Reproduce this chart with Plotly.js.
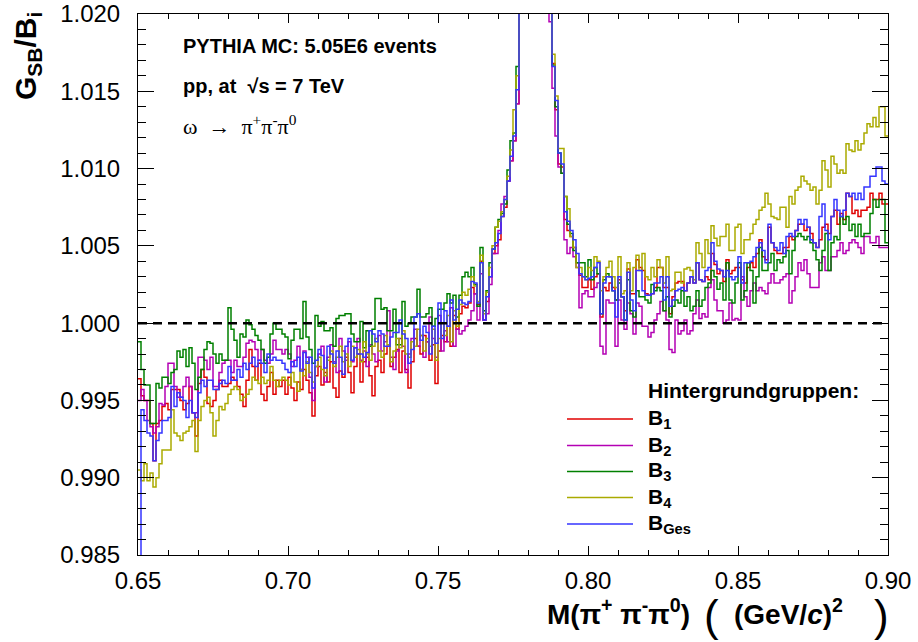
<!DOCTYPE html>
<html><head><meta charset="utf-8">
<script src="https://cdn.plot.ly/plotly-3.0.1.min.js"></script>
<style>html,body{margin:0;padding:0;background:#fff}#chart{width:918px;height:642px}</style>
</head><body><div id="chart"></div>
<script>
// Histogram binning (M in GeV/c^2)
const binLow = 0.65, binWidth = 0.001, nBins = 250;

const seriesLabels = ['B<sub>1</sub>', 'B<sub>2</sub>', 'B<sub>3</sub>', 'B<sub>4</sub>', 'B<sub>Ges</sub>'];
const seriesColors = ['#e00000', '#b400b4', '#008000', '#aaaa00', '#3535ff'];

// G_SB / B_i per bin (peak bins are off-scale estimates)
const B1 = [
0.9964,0.9953,0.9950,0.9950,0.9935,0.9911,0.9935,0.9937,0.9946,0.9948,
0.9944,0.9957,0.9957,0.9957,0.9950,0.9944,0.9948,0.9959,0.9942,0.9927,
0.9961,0.9970,0.9965,0.9948,0.9946,0.9950,0.9957,0.9963,0.9959,0.9959,
0.9961,0.9965,0.9963,0.9959,0.9954,0.9946,0.9963,0.9983,0.9972,0.9963,
0.9974,0.9954,0.9950,0.9959,0.9968,0.9954,0.9963,0.9959,0.9963,0.9954,
0.9965,0.9958,0.9950,0.9962,0.9957,0.9970,0.9963,0.9955,0.9940,0.9966,
0.9972,0.9960,0.9968,0.9962,0.9975,0.9958,0.9952,0.9969,0.9965,0.9978,
0.9968,0.9955,0.9972,0.9980,0.9962,0.9975,0.9978,0.9966,0.9953,0.9972,
0.9976,0.9968,0.9980,0.9985,0.9972,0.9978,0.9983,0.9968,0.9982,0.9970,
0.9958,0.9975,0.9990,0.9985,0.9980,0.9992,0.9988,0.9976,0.9986,0.9961,
0.9982,0.9992,0.9988,0.9998,0.9985,1.0005,0.9996,1.0006,1.0011,1.0010,
1.0013,1.0023,1.0019,1.0012,1.0040,1.0002,1.0014,1.0030,1.0045,1.0050,
1.0054,1.0069,1.0075,1.0092,1.0105,1.0118,1.0142,
1.0260,1.0350,1.0450,1.0520,1.0560,1.0560,1.0520,1.0450,1.0360,1.0280,1.0220,
1.0168,1.0138,1.0103,1.0101,1.0067,1.0060,1.0056,1.0049,1.0039,1.0031,1.0023,1.0023,
1.0028,1.0022,1.0030,1.0032,1.0004,1.0023,1.0021,1.0026,1.0023,1.0015,
1.0028,1.0017,1.0008,1.0035,1.0019,1.0019,1.0041,1.0036,1.0034,1.0019,
1.0018,1.0019,1.0023,1.0036,1.0036,1.0023,1.0023,1.0006,1.0017,1.0026,
1.0027,1.0027,1.0021,1.0026,1.0030,1.0026,1.0039,1.0028,1.0027,1.0030,
1.0028,1.0045,1.0038,1.0032,1.0034,1.0027,1.0041,1.0032,1.0034,1.0036,
1.0036,1.0028,1.0026,1.0036,1.0039,1.0036,1.0045,1.0054,1.0043,1.0041,
1.0062,1.0052,1.0047,1.0045,1.0045,1.0049,1.0049,1.0056,1.0054,1.0060,
1.0064,1.0064,1.0060,1.0062,1.0058,1.0052,1.0049,1.0054,1.0062,1.0064,
1.0058,1.0069,1.0073,1.0064,1.0071,1.0067,1.0084,1.0082,1.0071,1.0073,
1.0069,1.0073,1.0073,1.0075,1.0084,1.0080,1.0080,1.0084,1.0077,1.0077];

const B2 = [
0.9950,0.9957,0.9950,0.9937,0.9933,0.9929,0.9933,0.9948,0.9947,0.9959,
0.9974,0.9974,0.9959,0.9952,0.9952,0.9959,0.9965,0.9959,0.9942,0.9942,
0.9978,0.9978,0.9976,0.9970,0.9978,0.9959,0.9959,0.9968,0.9974,0.9976,
0.9976,0.9968,0.9976,0.9972,0.9972,0.9978,0.9987,0.9989,0.9988,0.9983,
0.9976,0.9983,0.9976,0.9974,0.9980,0.9989,0.9983,0.9983,0.9980,0.9983,
0.9980,0.9972,0.9976,0.9985,0.9970,0.9982,0.9978,0.9965,0.9950,0.9972,
0.9980,0.9985,0.9962,0.9978,0.9986,0.9975,0.9968,0.9990,0.9982,0.9976,
0.9988,0.9975,0.9984,0.9990,0.9976,0.9982,0.9972,0.9986,0.9980,0.9975,
0.9992,0.9982,0.9988,1.0008,0.9978,0.9970,0.9982,0.9990,0.9985,0.9968,
0.9980,0.9990,0.9996,0.9985,0.9992,0.9978,0.9988,1.0004,0.9990,0.9978,
1.0005,0.9982,0.9995,0.9988,1.0010,0.9985,0.9996,0.9993,0.9995,0.9998,
1.0002,1.0008,1.0019,1.0002,1.0032,1.0002,1.0006,1.0025,1.0045,1.0045,
1.0060,1.0077,1.0082,1.0092,1.0105,1.0118,1.0142,
1.0250,1.0340,1.0430,1.0500,1.0540,1.0540,1.0500,1.0420,1.0330,1.0250,1.0195,
1.0152,1.0121,1.0101,1.0097,1.0054,1.0045,1.0049,1.0043,1.0036,1.0010,1.0019,1.0021,
1.0017,1.0017,1.0023,1.0026,0.9985,0.9980,1.0015,1.0013,1.0013,0.9985,
1.0015,1.0002,0.9996,1.0013,1.0006,0.9993,1.0013,1.0011,0.9998,0.9998,
0.9991,0.9994,1.0002,1.0006,1.0014,1.0008,1.0002,0.9983,0.9981,1.0002,
0.9993,0.9995,1.0002,0.9993,0.9995,1.0006,1.0015,1.0003,1.0006,1.0004,
1.0023,1.0028,1.0015,1.0008,1.0008,1.0000,1.0002,1.0013,1.0002,1.0003,
1.0002,1.0030,1.0017,1.0011,1.0021,1.0026,1.0021,1.0023,1.0021,1.0019,
1.0026,1.0032,1.0026,1.0026,1.0028,1.0030,1.0032,1.0013,1.0021,1.0030,
1.0039,1.0034,1.0041,1.0032,1.0023,1.0023,1.0023,1.0039,1.0043,1.0034,
1.0034,1.0043,1.0043,1.0047,1.0052,1.0045,1.0047,1.0052,1.0054,1.0052,
1.0049,1.0045,1.0056,1.0056,1.0052,1.0052,1.0056,1.0049,1.0049,1.0049];

const B3 = [
0.9988,0.9970,0.9960,0.9960,0.9935,0.9935,0.9961,0.9958,0.9965,0.9965,
0.9961,0.9968,0.9970,0.9982,0.9978,0.9983,0.9972,0.9984,0.9974,0.9957,
0.9965,0.9970,0.9983,0.9988,0.9987,0.9980,0.9974,0.9980,0.9976,0.9976,
1.0010,0.9996,0.9989,0.9978,0.9993,0.9991,1.0002,0.9999,0.9996,0.9992,
0.9989,0.9983,0.9974,0.9978,0.9993,1.0000,0.9996,0.9996,0.9993,0.9991,
0.9977,0.9989,0.9996,0.9996,0.9990,1.0014,0.9991,0.9983,0.9974,1.0005,
0.9998,1.0001,0.9995,0.9995,0.9997,0.9985,1.0003,1.0005,1.0005,1.0006,
1.0006,0.9993,0.9988,0.9988,1.0001,0.9984,0.9995,0.9985,0.9996,1.0016,
1.0016,1.0009,1.0010,0.9995,0.9995,1.0009,0.9986,0.9986,1.0014,0.9998,
1.0000,1.0004,1.0004,1.0022,1.0004,1.0004,1.0006,1.0010,0.9998,1.0003,
1.0009,1.0009,1.0013,1.0019,1.0013,1.0018,1.0004,1.0018,1.0030,1.0033,
1.0030,1.0036,1.0025,1.0011,1.0049,1.0008,1.0021,1.0039,1.0048,1.0062,
1.0067,1.0071,1.0077,1.0099,1.0118,1.0123,1.0166,
1.0270,1.0360,1.0460,1.0530,1.0570,1.0570,1.0530,1.0460,1.0370,1.0290,1.0225,
1.0167,1.0140,1.0110,1.0097,1.0082,1.0064,1.0058,1.0047,1.0039,1.0039,1.0039,1.0030,
1.0041,1.0028,1.0036,1.0032,1.0006,1.0028,1.0032,1.0030,1.0021,1.0015,
1.0026,1.0017,1.0002,1.0028,1.0008,1.0004,1.0021,1.0017,1.0017,1.0015,
1.0013,1.0025,1.0021,1.0023,1.0021,1.0008,1.0017,1.0004,1.0011,1.0015,
1.0013,1.0021,1.0011,1.0017,1.0008,1.0011,1.0021,1.0011,1.0015,1.0023,
1.0026,1.0034,1.0030,1.0022,1.0026,1.0015,1.0039,1.0015,1.0013,1.0026,
1.0039,1.0015,1.0021,1.0039,1.0034,1.0013,1.0030,1.0049,1.0034,1.0034,
1.0039,1.0045,1.0034,1.0041,1.0039,1.0043,1.0047,1.0032,1.0047,1.0056,
1.0058,1.0056,1.0054,1.0056,1.0052,1.0047,1.0041,1.0034,1.0047,1.0058,
1.0034,1.0052,1.0056,1.0054,1.0069,1.0064,1.0069,1.0060,1.0064,1.0056,
1.0064,1.0056,1.0058,1.0058,1.0071,1.0080,1.0075,1.0080,1.0080,1.0052];

const B4 = [
0.9905,0.9898,0.9909,0.9898,0.9903,0.9894,0.9900,0.9909,0.9918,0.9918,
0.9918,0.9944,0.9929,0.9927,0.9924,0.9929,0.9930,0.9933,0.9937,0.9917,
0.9937,0.9946,0.9950,0.9952,0.9942,0.9927,0.9937,0.9946,0.9944,0.9948,
0.9954,0.9957,0.9959,0.9957,0.9950,0.9952,0.9954,0.9957,0.9965,0.9963,
0.9961,0.9965,0.9961,0.9963,0.9972,0.9963,0.9959,0.9963,0.9965,0.9963,
0.9960,0.9968,0.9962,0.9956,0.9970,0.9966,0.9975,0.9968,0.9962,0.9972,
0.9978,0.9970,0.9966,0.9976,0.9982,0.9972,0.9978,0.9985,0.9975,0.9980,
0.9972,0.9985,0.9978,0.9983,0.9975,0.9988,0.9980,0.9976,0.9985,0.9990,
0.9982,0.9978,0.9992,0.9986,0.9975,0.9982,0.9990,0.9984,0.9995,0.9980,
0.9978,0.9988,0.9985,0.9996,0.9992,0.9982,0.9990,0.9985,0.9996,0.9976,
0.9990,1.0000,0.9992,1.0005,0.9988,1.0008,0.9998,1.0012,1.0020,1.0018,
1.0022,1.0030,1.0024,1.0014,1.0044,1.0006,1.0020,1.0036,1.0050,1.0062,
1.0066,1.0072,1.0080,1.0095,1.0112,1.0138,1.0160,
1.0280,1.0370,1.0470,1.0540,1.0580,1.0580,1.0540,1.0470,1.0380,1.0300,1.0235,
1.0174,1.0147,1.0113,1.0113,1.0082,1.0074,1.0056,1.0049,1.0036,1.0036,1.0030,1.0028,
1.0036,1.0034,1.0043,1.0040,1.0021,1.0030,1.0036,1.0040,1.0030,1.0023,
1.0043,1.0019,1.0021,1.0039,1.0021,1.0036,1.0044,1.0034,1.0045,1.0030,
1.0028,1.0036,1.0030,1.0041,1.0036,1.0026,1.0043,1.0021,1.0022,1.0033,
1.0033,1.0026,1.0035,1.0036,1.0034,1.0028,1.0052,1.0045,1.0036,1.0054,
1.0045,1.0063,1.0055,1.0050,1.0056,1.0056,1.0064,1.0047,1.0047,1.0062,
1.0064,1.0045,1.0054,1.0054,1.0058,1.0064,1.0067,1.0073,1.0075,1.0084,
1.0077,1.0069,1.0068,1.0067,1.0075,1.0075,1.0062,1.0082,1.0077,1.0086,
1.0088,1.0095,1.0092,1.0090,1.0086,1.0088,1.0077,1.0086,1.0105,1.0099,
1.0088,1.0108,1.0103,1.0097,1.0099,1.0097,1.0116,1.0112,1.0111,1.0118,
1.0112,1.0116,1.0123,1.0129,1.0127,1.0133,1.0127,1.0140,1.0140,1.0121];

const BGes = [
0.9820,0.9944,0.9937,0.9929,0.9927,0.9911,0.9924,0.9929,0.9937,0.9937,
0.9939,0.9959,0.9946,0.9955,0.9952,0.9950,0.9939,0.9950,0.9942,0.9939,
0.9955,0.9963,0.9959,0.9963,0.9963,0.9957,0.9957,0.9961,0.9963,0.9961,
0.9972,0.9963,0.9963,0.9970,0.9965,0.9974,0.9970,0.9974,0.9978,0.9972,
0.9976,0.9974,0.9968,0.9980,0.9976,0.9978,0.9976,0.9976,0.9974,0.9970,
0.9968,0.9975,0.9972,0.9978,0.9969,0.9981,0.9974,0.9978,0.9958,0.9976,
0.9983,0.9979,0.9971,0.9985,0.9980,0.9974,0.9982,0.9978,0.9967,0.9985,
0.9990,0.9976,0.9984,0.9980,0.9980,0.9978,0.9981,0.9995,0.9993,0.9988,
0.9995,0.9993,0.9985,0.9985,0.9991,0.9994,0.9994,1.0002,0.9993,0.9990,
0.9974,0.9983,1.0004,1.0006,0.9989,0.9998,0.9994,0.9980,0.9998,0.9987,
1.0013,0.9990,1.0008,0.9998,1.0015,1.0002,1.0009,1.0015,1.0013,1.0012,
1.0014,1.0027,1.0026,1.0013,1.0039,1.0002,1.0017,1.0030,1.0048,1.0052,
1.0058,1.0069,1.0080,1.0092,1.0108,1.0121,1.0151,
1.0260,1.0350,1.0450,1.0520,1.0560,1.0560,1.0520,1.0450,1.0360,1.0280,1.0220,
1.0166,1.0144,1.0110,1.0103,1.0072,1.0066,1.0060,1.0054,1.0045,1.0032,1.0030,1.0028,
1.0029,1.0030,1.0036,1.0039,1.0006,1.0026,1.0030,1.0030,1.0021,1.0004,
1.0030,1.0017,1.0002,1.0033,1.0015,1.0008,1.0034,1.0034,1.0021,1.0018,
1.0018,1.0019,1.0026,1.0026,1.0030,1.0015,1.0030,1.0011,1.0015,1.0021,
1.0022,1.0023,1.0021,1.0026,1.0030,1.0026,1.0039,1.0028,1.0027,1.0034,
1.0036,1.0052,1.0040,1.0035,1.0034,1.0030,1.0034,1.0030,1.0028,1.0030,
1.0043,1.0026,1.0039,1.0039,1.0040,1.0043,1.0049,1.0052,1.0047,1.0039,
1.0064,1.0052,1.0049,1.0047,1.0052,1.0045,1.0056,1.0058,1.0056,1.0060,
1.0067,1.0064,1.0067,1.0062,1.0054,1.0052,1.0049,1.0069,1.0077,1.0060,
1.0054,1.0069,1.0080,1.0073,1.0069,1.0073,1.0084,1.0082,1.0084,1.0080,
1.0084,1.0080,1.0088,1.0088,1.0095,1.0095,1.0101,1.0101,1.0092,1.0090];

const allSeries = [B1, B2, B3, B4, BGes];
const edges = Array.from({length: nBins + 1}, (_, i) => +(binLow + i * binWidth).toFixed(3));

const traces = allSeries.map((vals, k) => ({
  x: edges,
  y: vals.concat([vals[vals.length - 1]]),
  type: 'scatter', mode: 'lines',
  line: {shape: 'hv', color: seriesColors[k], width: 1.5},
  name: seriesLabels[k], showlegend: false, hoverinfo: 'skip'
}));

// plot-area pixel helpers for paper placement
const L = 138, T = 14, W = 750, H = 541;
const px = v => (v - L) / W;
const py = v => (T + H - v) / H;

const FONT = 'Liberation Sans, Arial, sans-serif';
const shapes = [{type: 'line', xref: 'paper', yref: 'y', x0: 0, x1: 1, y0: 1.0, y1: 1.0,
  line: {color: 'black', width: 2.5, dash: '9px,6px'}}];
const annotations = [];
const legendY = [419, 445.5, 471.5, 497.5, 524];
seriesLabels.forEach((lab, k) => {
  shapes.push({type: 'line', xref: 'paper', yref: 'paper', x0: px(567), x1: px(633),
    y0: py(legendY[k]), y1: py(legendY[k]), line: {color: seriesColors[k], width: 1.5}});
  annotations.push({xref: 'paper', yref: 'paper', x: px(646), y: py(legendY[k]), xanchor: 'left', yanchor: 'middle',
    text: '<b>' + lab + '</b>', showarrow: false, font: {family: FONT, size: 21, color: 'black'}});
});
annotations.push(
  {xref: 'paper', yref: 'paper', x: px(646), y: py(390), xanchor: 'left', yanchor: 'middle', showarrow: false,
   text: '<b>Hintergrundgruppen:</b>', font: {family: FONT, size: 21, color: 'black'}},
  {xref: 'paper', yref: 'paper', x: px(181), y: py(46), xanchor: 'left', yanchor: 'middle', showarrow: false,
   text: '<b>PYTHIA MC: 5.05E6 events</b>', font: {family: FONT, size: 20, color: 'black'}},
  {xref: 'paper', yref: 'paper', x: px(181), y: py(86), xanchor: 'left', yanchor: 'middle', showarrow: false,
   text: '<b>pp, at  √s = 7 TeV</b>', font: {family: FONT, size: 20, color: 'black'}},
  {xref: 'paper', yref: 'paper', x: px(181), y: py(125), xanchor: 'left', yanchor: 'middle', showarrow: false,
   text: 'ω  →  π<sup>+</sup>π<sup>-</sup>π<sup>0</sup>', font: {family: 'Liberation Serif, Times New Roman, serif', size: 22, color: 'black'}},
  {xref: 'paper', yref: 'paper', x: px(28), y: py(56), xanchor: 'center', yanchor: 'middle', showarrow: false, textangle: -90,
   text: '<b>G<sub>SB</sub>/B<sub>i</sub></b>', font: {family: FONT, size: 30, color: 'black'}},
  // x-axis title pieces
  {xref: 'paper', yref: 'paper', x: px(692), y: py(612), xanchor: 'right', yanchor: 'middle', showarrow: false,
   text: '<b>M(π<sup>+</sup> π<sup>-</sup>π<sup>0</sup>)</b>', font: {family: FONT, size: 28, color: 'black'}},
  {xref: 'paper', yref: 'paper', x: px(711), y: py(615), xanchor: 'center', yanchor: 'middle', showarrow: false,
   text: '(', font: {family: FONT, size: 44, color: 'black'}},
  {xref: 'paper', yref: 'paper', x: px(732), y: py(612), xanchor: 'left', yanchor: 'middle', showarrow: false,
   text: '<b>(GeV/<i>c</i>)<sup>2</sup></b>', font: {family: FONT, size: 28, color: 'black'}},
  {xref: 'paper', yref: 'paper', x: px(881), y: py(615), xanchor: 'center', yanchor: 'middle', showarrow: false,
   text: ')', font: {family: FONT, size: 44, color: 'black'}}
);

const axisCommon = {
  showline: true, linecolor: 'black', linewidth: 1, mirror: 'allticks',
  ticks: 'inside', tickcolor: 'black', tickwidth: 1,
  showgrid: false, zeroline: false,
  tickfont: {family: FONT, size: 24, color: 'black'}
};

const layout = {
  width: 918, height: 642,
  margin: {l: L, r: 918 - L - W, t: T, b: 642 - T - H, pad: 0},
  paper_bgcolor: 'white', plot_bgcolor: 'white',
  showlegend: false,
  xaxis: Object.assign({}, axisCommon, {
    range: [0.65, 0.90], tick0: 0.65, dtick: 0.05, tickformat: '.2f', ticklen: 9,
    ticklabelstandoff: 4,
    minor: {dtick: 0.01, ticks: 'inside', ticklen: 5, tickcolor: 'black', showgrid: false}
  }),
  yaxis: Object.assign({}, axisCommon, {
    range: [0.985, 1.020], tick0: 0.985, dtick: 0.005, tickformat: '.3f', ticklen: 16,
    ticklabelstandoff: 12,
    minor: {dtick: 0.001, ticks: 'inside', ticklen: 8, tickcolor: 'black', showgrid: false}
  }),
  shapes: shapes,
  annotations: annotations
};

Plotly.newPlot('chart', traces, layout, {staticPlot: true, displayModeBar: false});
</script>
</body></html>
